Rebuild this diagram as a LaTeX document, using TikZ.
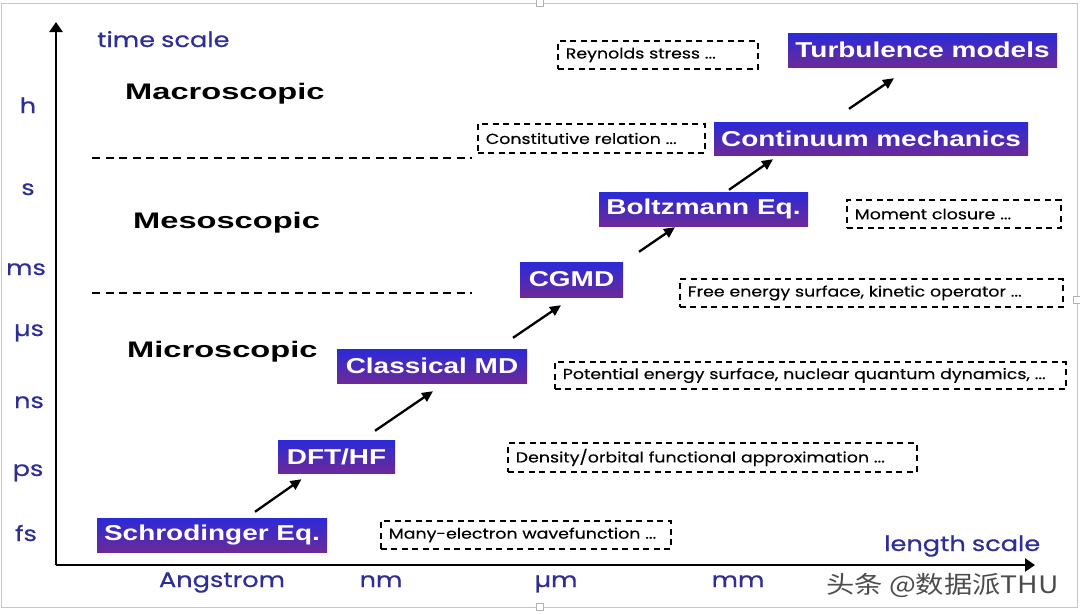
\documentclass[tikz,border=0pt]{standalone}
\usepackage{fontspec}
\setmainfont{Liberation Sans}
\newfontfamily\boxfont[FakeStretch=1.3]{Liberation Sans}
\newfontfamily\regionfont[FakeStretch=1.45]{Liberation Sans}
\newfontfamily\axisfont[FakeStretch=1.22,FakeBold=0.6]{Poppins}
\newfontfamily\notefont[FakeStretch=1.2,FakeBold=0.3]{Poppins}
\newfontfamily\cjkfont[FakeStretch=1.18]{Noto Sans CJK SC}
\usetikzlibrary{arrows.meta,calc}
\definecolor{boxtop}{HTML}{2A2AD8}
\definecolor{boxbot}{HTML}{6C2A98}
\definecolor{axisblue}{HTML}{2E2E96}
\tikzset{
  model/.style={rectangle, top color=boxtop, bottom color=boxbot, text=white,
    font=\boxfont\bfseries\fontsize{21.5}{21.5}\selectfont, inner sep=0pt},
  note/.style={rectangle, draw=black, line width=1.6pt, dash pattern=on 6pt off 4.5pt,
    font=\notefont\fontsize{14.5}{14.5}\selectfont, inner xsep=8pt, inner ysep=0pt,
    align=left, anchor=west},
  region/.style={font=\regionfont\bfseries\fontsize{22.5}{22.5}\selectfont, anchor=base west, inner sep=0pt},
  tick/.style={font=\axisfont\fontsize{21}{21}\selectfont, text=axisblue, anchor=base, inner sep=0pt},
  flow/.style={line width=2.3pt, -{Triangle[length=11pt,width=10pt]}},
  axis/.style={line width=2.6pt, -{Triangle[length=10pt,width=13pt]}},
  sep/.style={line width=2pt, dash pattern=on 8pt off 5.5pt},
  handle/.style={draw=gray!60, fill=white, line width=0.8pt, minimum size=7pt, inner sep=0pt}
}
\begin{document}
\begin{tikzpicture}[x=1pt,y=-1pt]
\useasboundingbox (0,0) rectangle (1080,614);
% frame
\draw[gray!45, line width=1pt] (1,3) rectangle (1077,607);
\node[handle] (h1) at (540,3) {};
\node[handle] (h2) at (540,607) {};
\node[handle] (h3) at (1077,300) {};

% axes
\coordinate (O) at (56,565);
\coordinate (Ytip) at (56,22);
\coordinate (Xtip) at (1035,565);
\draw[axis] (O) -- (Ytip);
\draw[axis] (O) -- (Xtip);

% axis titles
\node[tick, anchor=base west] (ts) at (97,47) {time\hspace{6pt}scale};
\node[tick, anchor=base west] (ls) at (884,551) {length\hspace{6pt}scale};

% time ticks
\node[tick] (th) at (28,113) {h};
\node[tick] (tsec) at (28,195) {s};
\node[tick] (tms) at (26,275) {ms};
\node[tick] (tus) at (29,336) {µs};
\node[tick] (tns) at (29,408) {ns};
\node[tick] (tps) at (28,476) {ps};
\node[tick] (tfs) at (26,541) {fs};

% length ticks
\node[tick] (la) at (222,587) {Angstrom};
\node[tick] (lnm) at (381,587) {nm};
\node[tick] (lum) at (556,587) {µm};
\node[tick] (lmm) at (738,587) {mm};

% regions
\node[region] (mac) at (125,99) {Macroscopic};
\node[region] (mes) at (133,228) {Mesoscopic};
\node[region] (mic) at (127,357) {Microscopic};
\coordinate (s1a) at (92,158);
\coordinate (s1b) at (472,158);
\coordinate (s2a) at (92,293);
\coordinate (s2b) at (472,293);
\draw[sep] (s1a) -- (s1b);
\draw[sep] (s2a) -- (s2b);

% model boxes
\node[model, minimum width=269pt, minimum height=34pt] (T) at (922.5,50) {Turbulence models};
\node[model, minimum width=314pt, minimum height=33pt] (Cm) at (871,138.5) {Continuum mechanics};
\node[model, minimum width=209pt, minimum height=34pt] (B) at (703.5,209) {Boltzmann Eq.};
\node[model, minimum width=103pt, minimum height=35pt] (G) at (571.5,279.5) {CGMD};
\node[model, minimum width=190pt, minimum height=34pt] (C) at (432,366) {Classical MD};
\node[model, minimum width=117pt, minimum height=33pt] (D) at (336.5,456.5) {DFT/HF};
\node[model, minimum width=230pt, minimum height=34pt] (S) at (212,535) {Schrodinger Eq.};

% arrows
\draw[flow] ([xshift=43pt,yshift=6pt]S.north) -- ([xshift=-35pt,yshift=-6pt]D.south);
\draw[flow] ([xshift=38.5pt,yshift=9pt]D.north) -- ([xshift=1pt,yshift=-8pt]C.south);
\draw[flow] ([xshift=81pt,yshift=11pt]C.north) -- ([xshift=-10.5pt,yshift=-8pt]G.south);
\draw[flow] ([xshift=67.5pt,yshift=10pt]G.north) -- ([xshift=-28.5pt,yshift=-1pt]B.south);
\draw[flow] ([xshift=25.5pt,yshift=2pt]B.north) -- ([xshift=-98pt,yshift=-4pt]Cm.south);
\draw[flow] ([xshift=-22pt,yshift=13pt]Cm.north) -- ([xshift=-28.5pt,yshift=-11pt]T.south);

% notes
\node[note, text width=184pt, minimum height=28pt] (n1) at (557,55) {Reynolds stress ...};
\node[note, text width=211pt, minimum height=29pt] (n2) at (477,138.5) {Constitutive relation ...};
\node[note, text width=198pt, minimum height=28pt] (n3) at (846,214) {Moment closure ...};
\node[note, text width=367pt, minimum height=28pt] (n4) at (679,293) {Free energy surface, kinetic operator ...};
\node[note, text width=495pt, minimum height=27pt] (n5) at (554,375.5) {Potential energy surface, nuclear quantum dynamics, ...};
\node[note, text width=393pt, minimum height=29pt] (n6) at (507,457.5) {Density/orbital functional approximation ...};
\node[note, text width=274pt, minimum height=28pt] (n7) at (380,535) {Many-electron wavefunction ...};

% watermark
\node[anchor=base west, inner sep=0pt, text=black!70, font=\cjkfont\fontsize{24}{24}\selectfont] (wm) at (826,593) {头条 @数据派THU};
\end{tikzpicture}
\end{document}
